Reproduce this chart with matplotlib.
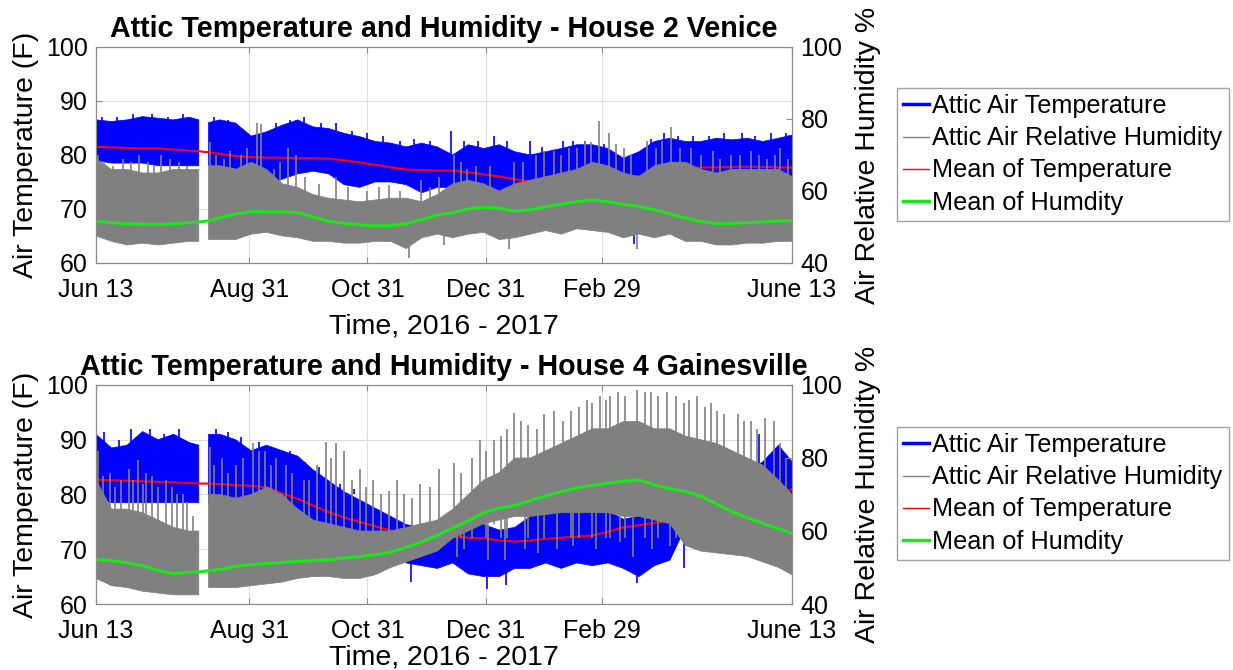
import numpy as np
import matplotlib
matplotlib.use('Agg')
import matplotlib.pyplot as plt
from matplotlib.lines import Line2D

plt.rcParams['font.family'] = ['Liberation Sans', 'DejaVu Sans']

# sample days, counted from Jun 13 2016 (nan in the bands = logger gap)
days = [0, 8, 16, 24, 32, 40, 48, 53, 55, 58, 64, 72, 80, 88, 96, 104, 112, 120,
        128, 136, 144, 152, 160, 168, 176, 184, 192, 200, 208, 216, 224, 232, 240,
        248, 256, 264, 272, 280, 288, 296, 304, 312, 320, 328, 336, 344, 352, 359]
tick_days = [0, 79, 140, 201, 261, 359]
tick_labels = ['Jun 13', 'Aug 31', 'Oct 31', 'Dec 31', 'Feb 29', 'June 13']
nan = np.nan

# ---- House 2 Venice ----
ven_temp_hi = [86.5, 86.2, 86.5, 87.1, 86.8, 86.5, 87.0, 86.5, nan, 86.0, 86.5, 85.9, 83.5, 84.3,
               85.5, 86.5, 85.2, 84.9, 84.0, 83.4, 82.5, 82.2, 81.5, 82.2, 81.5, 80.0, 81.9, 81.2,
               81.9, 80.6, 80.0, 80.6, 81.2, 81.9, 81.9, 81.2, 79.4, 80.6, 82.5, 83.1, 82.5, 82.5,
               83.1, 82.8, 83.1, 82.5, 83.1, 83.7]
ven_temp_lo = [79.0, 78.5, 78.5, 78.5, 78.0, 78.0, 78.0, 78.0, nan, 78.0, 78.0, 77.5, 76.0, 74.5,
               75.5, 76.5, 77.0, 76.5, 74.5, 74.0, 75.0, 75.0, 74.5, 73.0, 74.0, 74.0, 74.0, 73.0,
               73.0, 72.5, 73.0, 73.0, 73.5, 73.0, 73.0, 73.0, 72.0, 72.5, 74.0, 74.5, 75.0, 75.0,
               75.0, 75.0, 75.0, 75.0, 75.0, 74.0]
ven_temp_mean = [81.5, 81.4, 81.3, 81.2, 81.2, 81.0, 80.8, 80.7, 80.6, 80.5, 80.2, 79.8, 79.6, 79.5,
                 79.5, 79.4, 79.4, 79.3, 79.0, 78.6, 78.2, 77.7, 77.3, 77.2, 77.1, 77.1, 76.8, 76.4,
                 76.0, 75.5, 75.1, 75.3, 75.6, 75.8, 75.7, 75.6, 75.8, 76.1, 76.3, 76.8, 77.4, 77.7,
                 77.7, 77.8, 77.8, 77.8, 77.7, 77.7]
ven_hum_hi = [69, 66, 66, 65, 65, 66, 66, 66, nan, 67, 67, 66, 68, 66, 62, 61, 59, 58, 57.5, 57,
              57.5, 58, 58, 57, 59, 62, 63, 62, 60, 62, 63, 64, 65, 66, 68, 67, 65, 64, 67, 68,
              68, 66, 65, 66, 66, 66, 66, 64]
ven_hum_lo = [47.5, 46, 45, 45.5, 45, 45.5, 46, 46, nan, 46.5, 46.5, 46.5, 48, 48.5, 47.5, 47, 46,
              46, 45.5, 45.5, 46, 46, 44, 47, 48, 47, 48, 48.5, 46.5, 47, 48, 49, 48, 49.5, 49,
              48.5, 47, 48, 47, 48, 46, 46, 45, 45, 45.5, 45.5, 46, 46]
ven_hum_mean = [51.6, 51.2, 50.9, 50.7, 50.7, 50.9, 51.2, 51.4, 51.5, 51.7, 52.6, 53.6, 54.3, 54.2,
                54.2, 54.0, 52.8, 51.6, 51.0, 50.6, 50.3, 50.4, 50.9, 52.0, 53.3, 54.0, 55.0, 55.5,
                55.2, 54.4, 54.8, 55.6, 56.4, 57.0, 57.5, 57.0, 56.3, 55.7, 54.8, 53.6, 52.5, 51.5,
                51.0, 51.0, 51.2, 51.4, 51.6, 51.8]
# single readings that stick out of the bands
ven_blue_spike_day = [123.8, 183, 205, 224, 241, 277.5]
ven_blue_spike_lo = [80, 78, 78, 78, 78, 63.6]
ven_blue_spike_hi = [86, 84.5, 83.5, 82.5, 82.5, 74]
ven_blue_peak_day = [3, 11, 19, 29, 37, 45, 61, 68, 93, 100, 107, 116, 132, 140, 148, 157, 164, 172,
                     190, 197, 212, 230, 246, 252, 262, 286, 293, 300, 308, 316, 324, 333, 340, 348,
                     356]
ven_blue_peak = [87, 87, 87.5, 87.5, 87, 87.5, 87, 86.5, 86, 86.5, 87, 86, 84.5, 84, 83.5, 82.5, 83,
                 82.5, 82.5, 82.5, 82.5, 81.5, 82.5, 82.5, 82, 83, 84, 83.5, 83.5, 83.5, 84, 84,
                 83.5, 84, 84]
ven_gray_spike_day = [1, 14, 22, 33.5, 43, 59, 69, 83, 85, 99, 103, 124, 151, 167.6, 177, 184.7,
                      191.5, 215.6, 231, 239.7, 248.3, 255.1, 259.4, 264.6, 272.3, 284.4, 296.4,
                      306.7, 327.3, 346.2, 353, 161.6, 179.5, 213, 279]
ven_gray_spike_lo = [55, 55, 55, 55, 55, 55, 55, 55, 55, 55, 55, 52, 52, 52, 52, 55, 55, 55, 55,
                     55, 55, 55, 55, 55, 55, 55, 55, 55, 55, 55, 55, 41.5, 45, 44, 44]
ven_gray_spike_hi = [70, 69, 70, 70, 68, 73.7, 71, 79, 78.5, 72, 70, 64, 61.7, 63, 64, 70, 66, 68,
                     71, 70, 72, 73.5, 79.3, 76, 72, 74, 77.9, 72, 70, 69, 72, 50, 50, 50, 50]
ven_gray_peak_day = [4, 9, 18, 27, 30, 38, 47, 51, 62, 66, 75, 78, 92, 95, 108, 115, 130, 140, 146,
                     157, 172, 188, 196, 203, 220, 227, 236, 244, 252, 268, 276, 289, 292, 301, 312,
                     318, 322, 332, 338, 342, 350, 357]
ven_gray_peak = [68, 67, 68, 68, 67, 69, 67, 66, 70, 69, 70, 72, 66, 68, 64, 62, 61, 60, 61, 60, 61,
                 68, 67, 67, 68, 70, 71, 72, 74, 73, 70, 72, 74, 72, 70, 71, 69, 70, 71, 70, 70, 69]

# ---- House 4 Gainesville ----
gai_temp_hi = [91, 88.5, 89, 91.5, 90, 91, 89.5, 89, nan, 91, 91, 90, 88, 89, 88, 87, 84.5, 82.5,
               80.5, 79, 77.5, 76, 74.5, 74, 73.5, 74, 75, 74.5, 73.5, 74, 76, 77, 77.5, 78, 78.5,
               77, 75.5, 76, 75.5, 75.5, 80, 82, 83, 83, 84, 86, 89, 86]
gai_temp_lo = [79, 78.5, 78.5, 78.5, 78.5, 78.5, 78.5, 78.5, nan, 78.5, 78.5, 78.5, 78.5, 78.5, 78,
               77.5, 75, 74, 72.5, 72, 71.5, 70, 67.5, 67, 66.5, 67.5, 65.5, 65, 65, 66.5, 66.5,
               67.5, 66.5, 67.5, 67, 67.5, 66.5, 65, 67, 68, 74, 75, 76, 76, 77, 77, 77, 76]
gai_temp_mean = [82.7, 82.6, 82.5, 82.4, 82.3, 82.2, 82.1, 82.0, 82.0, 82.0, 81.9, 81.7, 81.6, 81.3,
                 80.2, 79.2, 78.0, 76.8, 75.8, 75.0, 74.2, 73.4, 72.8, 72.5, 72.3, 72.3, 72.1, 72.0,
                 71.6, 71.4, 71.6, 71.9, 72.1, 72.3, 72.5, 73.2, 74.0, 74.4, 74.8, 75.2, 76.0, 77.0,
                 78.0, 79.0, 79.8, 80.4, 80.7, 80.9]
gai_hum_hi = [74, 66, 66, 65, 63, 61, 60, 60, nan, 70, 70, 69, 70, 72, 70, 66, 63, 62, 61, 60, 60,
              60, 61, 62, 63, 66, 70, 74, 76, 80, 80, 82, 84, 86, 88, 88, 90, 90, 88, 88, 86, 85,
              84, 82, 80, 78, 74, 70]
gai_hum_lo = [47, 45, 44.5, 43.5, 43, 42.5, 42.5, 42.5, nan, 44.5, 44.5, 44.5, 45, 45.5, 46, 47,
              47.5, 47.5, 47, 47, 48, 50, 51.5, 53, 54.5, 58, 60, 62, 63, 64, 64, 64.5, 65, 65, 65,
              65, 64, 64, 63, 62, 56, 54.5, 54, 53.5, 53, 51.5, 50, 48]
gai_hum_mean = [52.2, 51.9, 51.3, 50.5, 49.2, 48.3, 48.7, 48.8, 48.9, 49.1, 49.5, 50.3, 50.8, 51.1,
                51.4, 51.7, 51.9, 52.1, 52.6, 53.0, 53.5, 54.2, 55.5, 57.0, 58.8, 60.8, 62.8, 65.0,
                66.3, 67.0, 68.3, 69.6, 70.8, 71.8, 72.5, 73.1, 73.6, 74.0, 72.6, 71.6, 70.8, 69.6,
                67.4, 65.3, 63.6, 62.1, 60.6, 59.4]
gai_blue_spike_day = [162.4, 201.8, 211.3, 279, 303, 263.7, 342, 327]
gai_blue_spike_lo = [64, 62.8, 63.5, 63.8, 66.5, 72, 80, 76]
gai_blue_spike_hi = [70, 68, 68, 68, 72, 80, 91, 83]
gai_blue_peak_day = [4, 12, 18, 28, 35, 43, 62, 68, 75, 84, 92, 100, 108, 115, 126, 133]
gai_blue_peak = [91.5, 90, 92, 92, 91, 92, 92, 91.5, 90.5, 89.5, 88.5, 88, 86, 85, 82, 81]
gai_gray_spike_day = [1, 7, 13, 21.5, 26, 32, 36, 45, 50, 59, 65, 72, 81, 87, 93, 98, 107, 118.5,
                      124, 128, 136, 143, 151, 155, 167, 172, 177, 184.7, 198, 205, 215.6, 219,
                      227.6, 236, 241, 253, 260, 269, 279, 286, 294.7, 303, 310, 320.5, 331,
                      337.6, 349.7, 353,
                      186, 190, 202, 211, 221, 228, 238, 246, 258, 270, 277, 287, 296]
gai_gray_spike_lo = [58, 55, 55, 55, 55, 55, 55, 55, 50, 60, 60, 60, 60, 60, 60, 60, 58, 58, 58,
                     58, 58, 58, 58, 58, 58, 58, 58, 62, 62, 62, 66, 66, 66, 66, 66, 66, 66, 66,
                     66, 66, 66, 66, 66, 66, 66, 66, 66, 60,
                     53, 55, 52, 52, 55, 54, 55, 56, 55, 57, 53, 55, 56]
gai_gray_spike_hi = [82, 76, 74, 79.5, 76, 72, 74, 70, 64, 83, 80, 78, 84, 82, 80, 78, 74, 84.4,
                     84, 82, 77, 74, 71, 74, 73, 72, 77, 78.6, 85, 85, 92.3, 90, 88, 93, 90, 96,
                     97, 98, 98.7, 98, 98, 95, 96.9, 93, 92, 90, 90, 84,
                     62, 62, 66, 66, 66, 66, 66, 66, 66, 66, 66, 66, 66]
gai_gray_peak_day = [3.5, 10, 17, 19, 24, 29, 39, 42, 47, 61, 68, 76, 84, 90, 101, 110, 114, 121, 132,
                     139, 147, 159, 163,
                     188, 194, 201, 209, 212, 223, 231, 245, 249, 256, 263, 265, 273, 283, 290, 299,
                     306, 314, 317, 324, 334, 341, 345, 356]
gai_gray_peak = [75, 72, 77, 74, 73, 75, 72, 70, 68, 78, 76, 80, 82, 78, 76, 74, 78, 80, 74,
                 72, 70, 70, 69,
                 76, 80, 82, 86, 88, 89, 92, 93, 94, 95, 96, 97, 97, 98, 97, 97, 96, 94, 95, 92, 90,
                 88, 91, 80]

blue = (0, 0, 1)
gray = (0.5, 0.5, 0.5)
red = (1, 0, 0)
green = (0.1, 0.9, 0.1)
edge = '#8a8a8a'


def draw_panel(rect, title, t_hi, t_lo, t_mean, h_hi, h_lo, h_mean,
               b_day, b_lo, b_hi, bp_day, bp, bp_base,
               g_day, g_lo, g_hi, gp_day, gp, gp_base, xlabel_pad):
    ax = fig.add_axes(rect)
    ax.fill_between(days, t_lo, t_hi, color=blue, lw=0.5)
    ax.vlines(b_day, b_lo, b_hi, color=blue, lw=1.2)
    ax.vlines(bp_day, bp_base, bp, color=blue, lw=1.2)
    ax.plot(days, t_mean, color=red, lw=1.5)
    ax.set_xlim(0, 359)
    ax.set_ylim(60, 100)
    ax.set_yticks([60, 70, 80, 90, 100])
    ax.set_xticks(tick_days)
    ax.set_xticklabels(tick_labels)
    ax.grid(True, color='#dddddd', lw=0.8)
    ax.set_axisbelow(True)
    ax.tick_params(direction='in', top=True, labelsize=18, pad=6, color=edge, length=4)
    ax.tick_params(axis='x', pad=11)
    ax.set_ylabel('Air Temperature (F)', fontsize=20.5, labelpad=5)
    ax.set_xlabel('Time, 2016 - 2017', fontsize=20.5, labelpad=xlabel_pad)
    ax.set_title(title, fontsize=20.6, fontweight='bold', pad=7)

    ax2 = ax.twinx()
    ax2.fill_between(days, h_lo, h_hi, color=gray, lw=0.5)
    ax2.vlines(g_day, g_lo, g_hi, color=gray, lw=1.2)
    ax2.vlines(gp_day, gp_base, gp, color=gray, lw=1.2)
    ax2.plot(days, h_mean, color=green, lw=2.2)
    ax2.set_ylim(40, 100)
    ax2.set_yticks([40, 60, 80, 100])
    ax2.tick_params(direction='in', labelsize=18, pad=6, color=edge, length=4)
    ax2.set_ylabel('Air Relative Humidity %', fontsize=20.5, labelpad=9)
    for a in (ax, ax2):
        for s in a.spines.values():
            s.set_color(edge)
    return ax


fig = plt.figure(figsize=(12.33, 6.70), dpi=100)

draw_panel([0.0779, 0.6075, 0.5645, 0.3224], 'Attic Temperature and Humidity - House 2 Venice',
           ven_temp_hi, ven_temp_lo, ven_temp_mean, ven_hum_hi, ven_hum_lo, ven_hum_mean,
           ven_blue_spike_day, ven_blue_spike_lo, ven_blue_spike_hi,
           ven_blue_peak_day, ven_blue_peak, 79,
           ven_gray_spike_day, ven_gray_spike_lo, ven_gray_spike_hi,
           ven_gray_peak_day, ven_gray_peak, 55, 8)
draw_panel([0.0779, 0.0985, 0.5645, 0.3269], 'Attic Temperature and Humidity - House 4 Gainesville',
           gai_temp_hi, gai_temp_lo, gai_temp_mean, gai_hum_hi, gai_hum_lo, gai_hum_mean,
           gai_blue_spike_day, gai_blue_spike_lo, gai_blue_spike_hi,
           gai_blue_peak_day, gai_blue_peak, 80,
           gai_gray_spike_day, gai_gray_spike_lo, gai_gray_spike_hi,
           gai_gray_peak_day, gai_gray_peak, 58, 1)

handles = [Line2D([], [], color=blue, lw=2.5), Line2D([], [], color=gray, lw=1.0),
           Line2D([], [], color=red, lw=1.0), Line2D([], [], color=green, lw=2.5)]
labels = ['Attic Air Temperature', 'Attic Air Relative Humidity',
          'Mean of Temperature', 'Mean of Humdity']
for top in (1 - 88 / 670, 1 - 427 / 670):
    leg = fig.legend(handles, labels, loc='upper left', bbox_to_anchor=(897 / 1233, top),
                     bbox_transform=fig.transFigure, fontsize=18.2, frameon=True, fancybox=False,
                     handlelength=1.0, handletextpad=0.15, labelspacing=0.32, borderpad=0.25,
                     borderaxespad=0)
    leg.get_frame().set_edgecolor(edge)
    leg.get_frame().set_linewidth(1.0)

fig.savefig('out.png', dpi=100)
